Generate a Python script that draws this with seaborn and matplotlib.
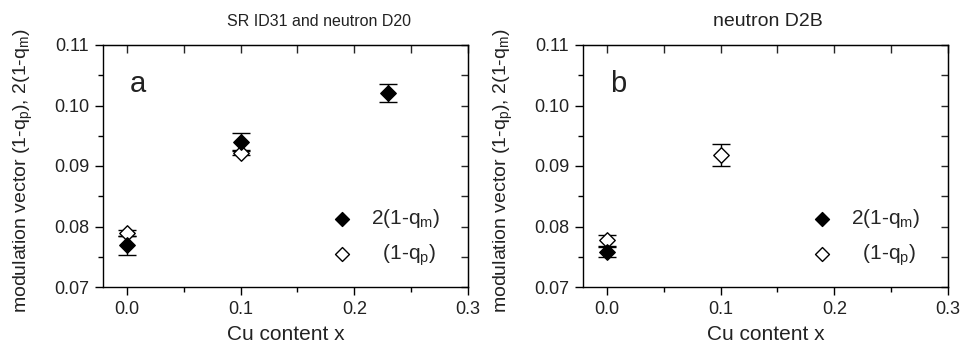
import matplotlib
matplotlib.use("Agg")
import matplotlib.pyplot as plt
from matplotlib.ticker import MultipleLocator
import seaborn as sns
import pandas as pd

# ---- data ----
# Panel a: SR ID31 and neutron D20
a_x_m = [0.0, 0.1, 0.23]
a_qm = [0.0769, 0.0940, 0.1020]
a_qm_err = [0.00155, 0.0014, 0.0015]
a_x_p = [0.0, 0.1]
a_qp = [0.0789, 0.0922]
a_qp_err = [0.0005, 0.0003]

# Panel b: neutron D2B
b_x_m = [0.0]
b_qm = [0.0758]
b_qm_err = [0.0008]
b_x_p = [0.0, 0.1]
b_qp = [0.0777, 0.0918]
b_qp_err = [0.0009, 0.0018]

titles = ["SR ID31 and neutron D20", "neutron D2B"]
panel_labels = ["a", "b"]
label_m = "2(1-q$_\\mathregular{m}$)"
label_p = "  (1-q$_\\mathregular{p}$)"
xlabel = "Cu content x"
ylabel = "modulation vector (1-q$_\\mathregular{p}$), 2(1-q$_\\mathregular{m}$)"

sns.set_style("ticks")
plt.rcParams["font.family"] = ["Liberation Sans", "DejaVu Sans"]
plt.rcParams["mathtext.fontset"] = "custom"
plt.rcParams["mathtext.rm"] = "Liberation Sans"

fig = plt.figure(figsize=(9.6, 3.57), dpi=100)
W, H = 960, 357
axes = [
    fig.add_axes([103 / W, (H - 287) / H, 365 / W, 242 / H]),
    fig.add_axes([583 / W, (H - 287) / H, 365 / W, 242 / H]),
]

panels = [
    (a_x_m, a_qm, a_qm_err, a_x_p, a_qp, a_qp_err),
    (b_x_m, b_qm, b_qm_err, b_x_p, b_qp, b_qp_err),
]
title_x = [0.592, 0.507]
title_size = [11.5, 14]

for i, (ax, (xm, ym, em, xp, yp, ep)) in enumerate(zip(axes, panels)):
    dfp = pd.DataFrame({"x": xp, "y": yp})
    dfm = pd.DataFrame({"x": xm, "y": ym})
    # error bars
    ax.errorbar(xp, yp, yerr=ep, fmt="none", ecolor="black", elinewidth=1.0,
                capsize=6.5, capthick=1.0, zorder=2)
    ax.errorbar(xm, ym, yerr=em, fmt="none", ecolor="black", elinewidth=1.0,
                capsize=6.5, capthick=1.0, zorder=2)
    # open diamonds (p) then filled (m) on top
    sns.scatterplot(data=dfp, x="x", y="y", ax=ax, marker="D", s=62,
                    facecolor="white", edgecolor="black", linewidth=1.0,
                    zorder=3, label=label_p)
    sns.scatterplot(data=dfm, x="x", y="y", ax=ax, marker="D", s=62,
                    color="black", edgecolor="black", linewidth=1.0,
                    zorder=4, label=label_m)

    ax.set_xlim(-0.021, 0.3)
    ax.set_ylim(0.07, 0.11)
    ax.xaxis.set_major_locator(MultipleLocator(0.1))
    ax.xaxis.set_minor_locator(MultipleLocator(0.05))
    ax.yaxis.set_major_locator(MultipleLocator(0.01))
    ax.yaxis.set_minor_locator(MultipleLocator(0.005))
    ax.xaxis.set_major_formatter(matplotlib.ticker.FormatStrFormatter("%.1f"))
    ax.yaxis.set_major_formatter(matplotlib.ticker.FormatStrFormatter("%.2f"))
    ax.tick_params(axis="both", which="major", direction="out", length=6,
                   width=1.0, labelsize=13, pad=4, color="black",
                   labelcolor="#222222")
    ax.tick_params(axis="both", which="minor", direction="out", length=3.5,
                   width=1.0, color="black")
    for sp in ax.spines.values():
        sp.set_visible(True)
        sp.set_linewidth(1.0)
        sp.set_color("black")

    # mirrored inward ticks on top and right
    top = ax.secondary_xaxis("top")
    top.xaxis.set_major_locator(MultipleLocator(0.1))
    top.xaxis.set_minor_locator(MultipleLocator(0.05))
    top.tick_params(which="both", direction="in", length=6, width=1.0,
                    labeltop=False)
    right = ax.secondary_yaxis("right")
    right.yaxis.set_major_locator(MultipleLocator(0.01))
    right.yaxis.set_minor_locator(MultipleLocator(0.005))
    right.tick_params(which="both", direction="in", length=5, width=1.0,
                      labelright=False)

    ax.set_xlabel(xlabel, fontsize=15, color="#222222", labelpad=5)
    ax.set_ylabel(ylabel, fontsize=14, color="#222222")
    ax.yaxis.set_label_coords(-0.186, 0.48)
    ax.set_title(titles[i], fontsize=title_size[i], color="#222222", pad=14,
                 x=title_x[i])
    ax.text(0.074, 0.806, panel_labels[i], transform=ax.transAxes,
            fontsize=21, color="#222222", ha="left", va="baseline")

    handles, labels = ax.get_legend_handles_labels()
    order = [labels.index(label_m), labels.index(label_p)]
    ax.legend([handles[j] for j in order], [labels[j] for j in order],
              loc="center left", bbox_to_anchor=(0.626, 0.2045),
              frameon=False, fontsize=15, markerscale=0.9,
              handlelength=1.0, handletextpad=0.9, borderpad=0,
              borderaxespad=0, labelspacing=0.55)

fig.savefig("out.png", dpi=100)
